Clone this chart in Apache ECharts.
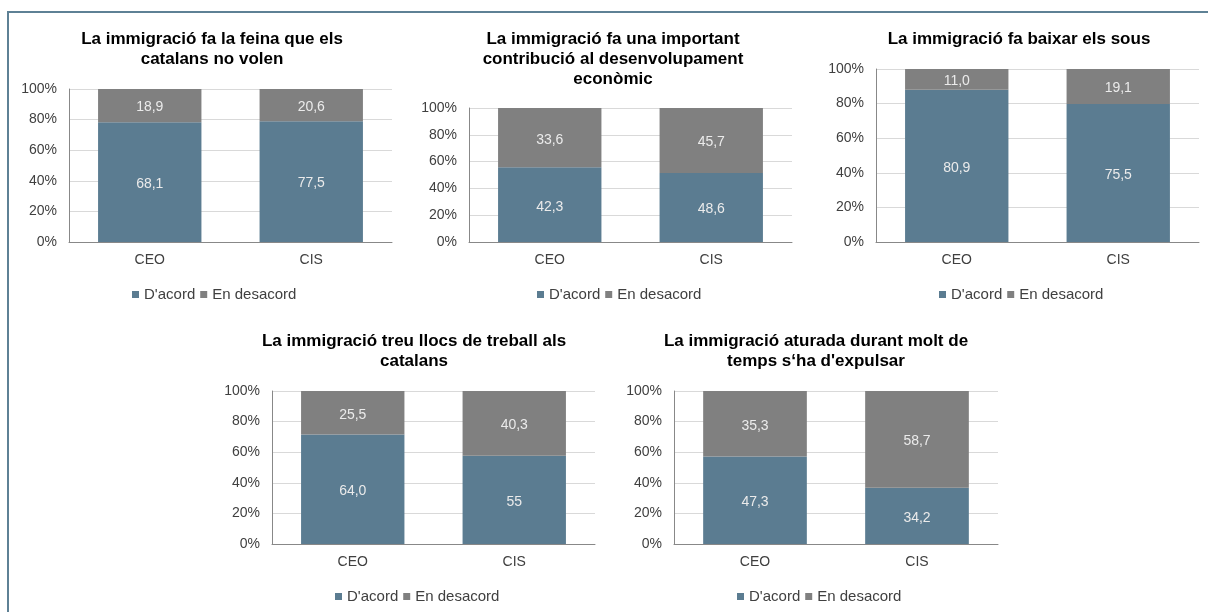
<!DOCTYPE html>
<html><head><meta charset="utf-8">
<script src="https://cdn.jsdelivr.net/npm/echarts@6/dist/echarts.min.js"></script>
<style>
html,body{margin:0;padding:0;background:#fff;}
#c{width:1208px;height:612px;position:relative;}
#frame{position:absolute;left:7px;top:11px;width:1210px;height:610px;border-top:2px solid #5e8195;border-left:2px solid #5e8195;pointer-events:none;}
</style></head>
<body><div id="c"></div><div id="frame"></div>
<script>
const categories = ['CEO', 'CIS'];
const seriesNames = ["D'acord", 'En desacord'];
const yTicks = [0, 20, 40, 60, 80, 100];

const titles = [
  'La immigració fa la feina que els\ncatalans no volen',
  'La immigració fa una important\ncontribució al desenvolupament\neconòmic',
  'La immigració fa baixar els sous',
  'La immigració treu llocs de treball als\ncatalans',
  'La immigració aturada durant molt de\ntemps s‘ha d\'expulsar'
];
// displayed values (D'acord, En desacord) per chart, [CEO, CIS]
const acord1 = ['68,1', '77,5'];
const desacord1 = ['18,9', '20,6'];
const acord2 = ['42,3', '48,6'];
const desacord2 = ['33,6', '45,7'];
const acord3 = ['80,9', '75,5'];
const desacord3 = ['11,0', '19,1'];
const acord4 = ['64,0', '55'];
const desacord4 = ['25,5', '40,3'];
const acord5 = ['47,3', '34,2'];
const desacord5 = ['35,3', '58,7'];

const acordAll = [acord1, acord2, acord3, acord4, acord5];
const desacordAll = [desacord1, desacord2, desacord3, desacord4, desacord5];

const FONT = "'Liberation Sans', Arial, sans-serif";
const C_ACORD = '#5b7c91';
const C_DES = '#808080';

const layout = [
  {grid:{left:69, top:89, width:323, height:153}, tx:212, ty:29, lx:132, ly:287},
  {grid:{left:469, top:108, width:323, height:134}, tx:613, ty:29, lx:537, ly:287},
  {grid:{left:876, top:69, width:323, height:173}, tx:1019, ty:29, lx:939, ly:287},
  {grid:{left:272, top:391, width:323, height:153}, tx:414, ty:331, lx:335, ly:589},
  {grid:{left:674, top:391, width:324, height:153}, tx:816, ty:331, lx:737, ly:589}
];

const num = s => parseFloat(s.replace(',', '.'));

const option = {
  animation: false,
  backgroundColor: '#fff',
  textStyle: {fontFamily: FONT},
  title: [], legend: [], grid: [], xAxis: [], yAxis: [], series: []
};

layout.forEach((L, i) => {
  option.title.push({
    text: titles[i], left: L.tx, top: L.ty, textAlign: 'center', padding: 0,
    textStyle: {fontFamily: FONT, fontSize: 17, fontWeight: 'bold', color: '#000', lineHeight: 20}
  });
  option.legend.push({
    data: seriesNames, left: L.lx, top: L.ly, padding: 0, itemWidth: 7, itemHeight: 7, itemGap: 5,
    icon: 'rect', selectedMode: false,
    textStyle: {fontFamily: FONT, fontSize: 15, color: '#404040'}
  });
  option.grid.push(Object.assign({containLabel: false}, L.grid));
  option.xAxis.push({
    type: 'category', gridIndex: i, data: categories,
    axisLine: {lineStyle: {color: '#888', width: 1}},
    axisTick: {show: false},
    axisLabel: {fontFamily: FONT, fontSize: 14, color: '#404040', margin: 11}
  });
  option.yAxis.push({
    type: 'value', gridIndex: i, min: yTicks[0], max: yTicks[yTicks.length-1], interval: 20,
    axisLine: {show: true, lineStyle: {color: '#888', width: 1}},
    axisTick: {show: false},
    splitLine: {lineStyle: {color: '#d9d9d9', width: 1}},
    axisLabel: {fontFamily: FONT, fontSize: 14, color: '#404040', margin: 12, formatter: '{value}%'}
  });
  const a = acordAll[i], d = desacordAll[i];
  const tot = a.map((v, k) => num(v) + num(d[k]));
  [[a, C_ACORD, 0], [d, C_DES, 1]].forEach(([arr, col, si]) => {
    option.series.push({
      name: seriesNames[si], type: 'bar', stack: 's' + i,
      xAxisIndex: i, yAxisIndex: i, barWidth: '64%',
      itemStyle: {color: col},
      data: arr.map((v, k) => num(v) / tot[k] * 100),
      label: {
        show: true, position: 'inside', offset: [0, 2], fontFamily: FONT, fontSize: 14, color: '#ebebeb',
        formatter: p => arr[p.dataIndex]
      }
    });
  });
});

const chart = echarts.init(document.getElementById('c'), null, {renderer: 'canvas'});
chart.setOption(option);
</script>
</body></html>
